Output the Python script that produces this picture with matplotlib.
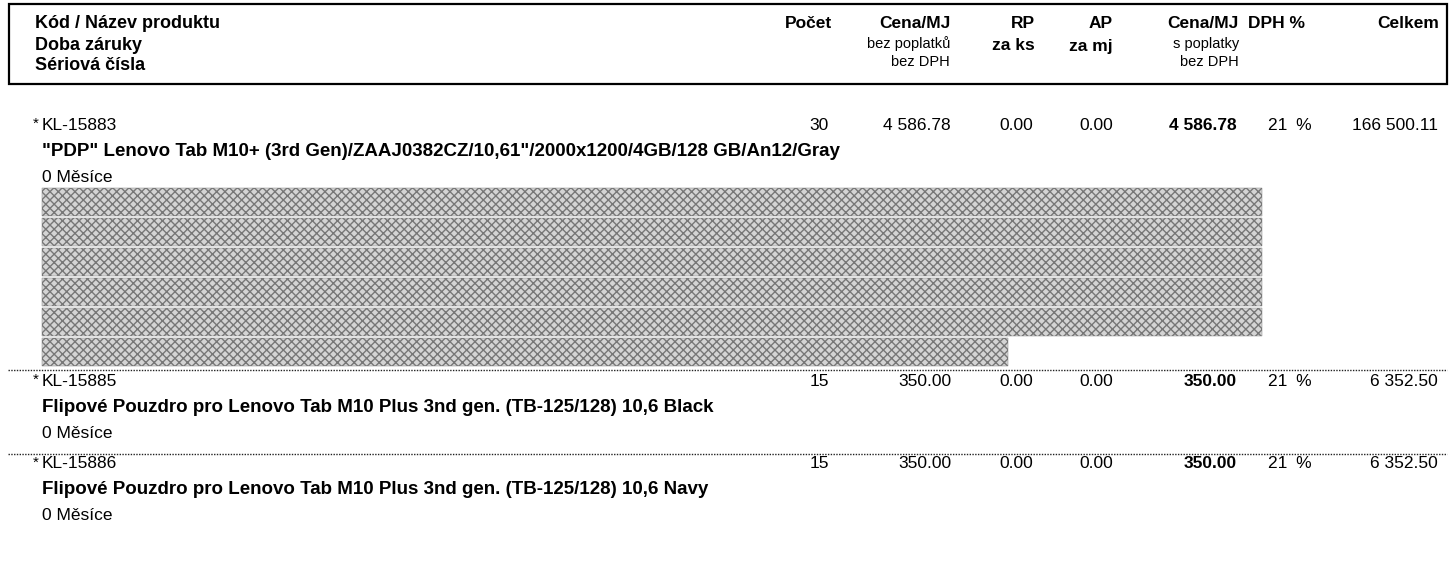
import matplotlib.pyplot as plt
from matplotlib.patches import Rectangle

# hlavička tabulky
head_left = ['Kód / Název produktu', 'Doba záruky', 'Sériová čísla']
head_cols = ['Počet', 'Cena/MJ', 'RP', 'AP', 'Cena/MJ', 'DPH %', 'Celkem']
head_sub1 = ['', 'bez poplatků', 'za ks', 'za mj', 's poplatky', '', '']
head_sub2 = ['', 'bez DPH', '', '', 'bez DPH', '', '']

# položky
codes = ['KL-15883', 'KL-15885', 'KL-15886']
names = ['"PDP" Lenovo Tab M10+ (3rd Gen)/ZAAJ0382CZ/10,61"/2000x1200/4GB/128 GB/An12/Gray',
         'Flipové Pouzdro pro Lenovo Tab M10 Plus 3nd gen. (TB-125/128) 10,6 Black',
         'Flipové Pouzdro pro Lenovo Tab M10 Plus 3nd gen. (TB-125/128) 10,6 Navy']
warranty = ['0 Měsíce', '0 Měsíce', '0 Měsíce']
qty = ['30', '15', '15']
price = ['4 586.78', '350.00', '350.00']
rp = ['0.00', '0.00', '0.00']
ap = ['0.00', '0.00', '0.00']
price_fee = ['4 586.78', '350.00', '350.00']
vat = ['21', '21', '21']
total = ['166 500.11', '6 352.50', '6 352.50']
serial_lines = [6, 0, 0]   # počet řádků zakrytých sériových čísel

W, H = 1453, 563
fig = plt.figure(figsize=(W / 100, H / 100), dpi=100)
ax = fig.add_axes([0, 0, 1, 1])
ax.set_xlim(0, W)
ax.set_ylim(H, 0)
ax.axis('off')

bold = dict(family=['Liberation Sans', 'DejaVu Sans'], weight='bold', color='black')
reg = dict(family=['Liberation Sans', 'DejaVu Sans'], color='black')

# rámeček hlavičky
ax.add_patch(Rectangle((9, 4), 1438, 80, fill=False, lw=1.6, ec='black'))

for i, t in enumerate(head_left):
    ax.text(35, 24 + i * 21, t, fontsize=13, va='center', ha='left', **bold)

col_right = [832, 950, 1035, 1113, 1239, None, 1439]
for j, t in enumerate(head_cols):
    if col_right[j] is None:
        ax.text(1248, 24, t, fontsize=12.5, va='center', ha='left', **bold)
    else:
        ax.text(col_right[j], 24, t, fontsize=12.5, va='center', ha='right', **bold)
    if head_sub1[j]:
        if head_sub1[j].startswith('za'):
            ax.text(col_right[j], 46, head_sub1[j], fontsize=12.5, va='center', ha='right', **bold)
        else:
            ax.text(col_right[j], 44, head_sub1[j], fontsize=10.5, va='center', ha='right', **reg)
    if head_sub2[j]:
        ax.text(col_right[j], 62, head_sub2[j], fontsize=10.5, va='center', ha='right', **reg)

# položky
y = 125
row_gap = 26
for k in range(len(codes)):
    ax.text(33, y - 1, '*', fontsize=11, va='center', ha='left', **reg)
    ax.text(42, y, codes[k], fontsize=12.5, va='center', ha='left', **reg)
    ax.text(829, y, qty[k], fontsize=12.5, va='center', ha='right', **reg)
    ax.text(951, y, price[k], fontsize=12.5, va='center', ha='right', **reg)
    ax.text(1033, y, rp[k], fontsize=12.5, va='center', ha='right', **reg)
    ax.text(1113, y, ap[k], fontsize=12.5, va='center', ha='right', **reg)
    ax.text(1237, y, price_fee[k], fontsize=12.5, va='center', ha='right', **bold)
    ax.text(1268, y, f'{vat[k]}\u2002%', fontsize=12.5, va='center', ha='left', **reg)
    ax.text(1438, y, total[k], fontsize=12.5, va='center', ha='right', **reg)
    ax.text(42, y + row_gap, names[k], fontsize=13.5, va='center', ha='left', **bold)
    ax.text(42, y + 2 * row_gap, warranty[k], fontsize=12.5, va='center', ha='left', **reg)
    if serial_lines[k]:
        # zakrytá sériová čísla
        yb = y + 2 * row_gap + 11
        for n in range(serial_lines[k]):
            w = 1220 if n < serial_lines[k] - 1 else 966
            ax.add_patch(Rectangle((42, yb + n * 30), w, 28, fc='#d4d4d4', ec='#777777',
                                   lw=0.3, hatch='xxxx'))
        dot_y = yb + serial_lines[k] * 30 + 2
        next_y = dot_y + 11
    else:
        dot_y = y + 2 * row_gap + 21
        next_y = dot_y + 10
    if k < len(codes) - 1:
        ax.plot([8, 1447], [dot_y, dot_y], color='#222222', lw=1, ls=(0, (1, 1)))
        y = next_y

fig.savefig('out.png', dpi=100, facecolor='white')
